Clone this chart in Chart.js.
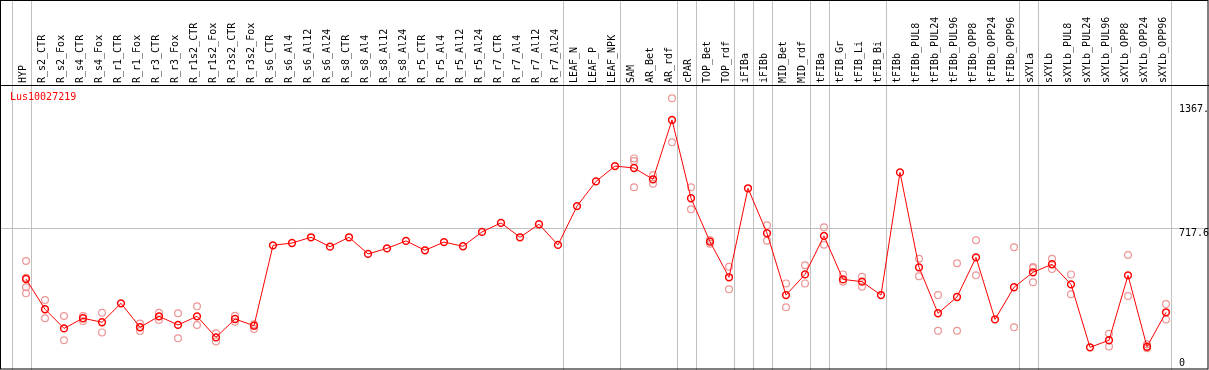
<!DOCTYPE html>
<html>
<head>
<meta charset="utf-8">
<title>Lus10027219</title>
<script src="https://cdn.jsdelivr.net/npm/chart.js@4"></script>
<style>
  html, body { margin: 0; padding: 0; background: #fff; }
  canvas { display: block; }
</style>
</head>
<body>
<canvas id="profileChart" width="1209" height="370"></canvas>
<script>
// sample names (x axis, written vertically at the top)
const categories = [
  'HYP', 'R_s2_CTR', 'R_s2_Fox', 'R_s4_CTR', 'R_s4_Fox', 'R_r1_CTR', 'R_r1_Fox',
  'R_r3_CTR', 'R_r3_Fox', 'R_r1s2_CTR', 'R_r1s2_Fox', 'R_r3s2_CTR', 'R_r3s2_Fox',
  'R_s6_CTR', 'R_s6_Al4', 'R_s6_Al12', 'R_s6_Al24', 'R_s8_CTR', 'R_s8_Al4',
  'R_s8_Al12', 'R_s8_Al24', 'R_r5_CTR', 'R_r5_Al4', 'R_r5_Al12', 'R_r5_Al24',
  'R_r7_CTR', 'R_r7_Al4', 'R_r7_Al12', 'R_r7_Al24', 'LEAF_N', 'LEAF_P', 'LEAF_NPK',
  'SAM', 'AR_Bet', 'AR_rdf', 'cPAR', 'TOP_Bet', 'TOP_rdf', 'iFIBa', 'iFIBb',
  'MID_Bet', 'MID_rdf', 'tFIBa', 'tFIB_Gr', 'tFIB_Li', 'tFIB_Bi', 'tFIBb',
  'tFIBb_PUL8', 'tFIBb_PUL24', 'tFIBb_PUL96', 'tFIBb_OPP8', 'tFIBb_OPP24', 'tFIBb_OPP96',
  'sXYLa', 'sXYLb', 'sXYLb_PUL8', 'sXYLb_PUL24', 'sXYLb_PUL96', 'sXYLb_OPP8',
  'sXYLb_OPP24', 'sXYLb_OPP96'
];

// mean expression (red line)
const meanValues = [
  453, 295, 195, 248, 227, 326, 201, 258, 213, 258, 148, 244, 209,
  629, 641, 671, 622, 671, 584, 613, 652, 603, 646, 624, 699,
  746, 671, 739, 631, 834, 963, 1043,
  1033, 974, 1284, 875, 648, 462, 927, 692,
  369, 477, 678, 451, 439, 369, 1010,
  514, 274, 359, 566, 242, 410,
  488, 530, 425, 96, 133, 472, 99, 279
];

// single replicates (pale circles), null where none is shown
const rep1 = [
  547, 343, 260, 260, 277, null, 220, 277, 274, 310, 169, 261, 216,
  null, null, null, null, null, null, null, null, null, null, null, null,
  null, null, null, null, null, null, null,
  1083, 996, 1397, 932, 657, 517, null, 734,
  430, 525, 723, 477, 465, null, null,
  559, 369, 535, 655, null, 619,
  516, 559, 477, null, 167, 578, 112, 322
];
const rep2 = [
  460, 248, 133, 234, 174, null, 181, 239, 143, 213, 127, 230, 192,
  null, null, null, null, null, null, null, null, null, null, null, null,
  null, null, null, null, null, null, null,
  1069, 951, 1167, 817, 637, 399, null, 653,
  305, 430, 632, 439, 413, null, null,
  467, 183, 183, 472, null, 201,
  510, 505, 373, null, 101, 364, 91, 242
];
const rep3 = [
  410, null, null, null, null, null, null, null, null, null, null, null, null,
  null, null, null, null, null, null, null, null, null, null, null, null,
  null, null, null, null, null, null, null,
  932, null, null, null, null, null, null, null,
  null, null, null, null, null, null, null,
  null, null, null, null, null, null,
  436, null, null, null, null, null, null, null
];
const rep4 = [
  378, null, null, null, null, null, null, null, null, null, null, null, null,
  null, null, null, null, null, null, null, null, null, null, null, null,
  null, null, null, null, null, null, null,
  null, null, null, null, null, null, null, null,
  null, null, null, null, null, null, null,
  null, null, null, null, null, null,
  null, null, null, null, null, null, null, null
];

// right hand value labels
const yTickValues = [0, 717.6, 1367.2];
const yTickLabels = ['0', '717.6', '1367.'];
const gridValue = 717.6;

// a grey separator is drawn just after these sample indexes
const groupBreaks = [-1, 0, 28, 31, 34, 35, 37, 38, 39, 41, 42, 45, 52, 53, 60];

const geneName = 'Lus10027219';
const monoFont = '"DejaVu Sans Mono", "Liberation Mono", monospace';

function axisEnd(chart) {
  return chart.scales.x.getPixelForValue(categories.length - 1 + 0.25);
}

// draws the frame, separators and the grey grid behind the points
const framePlugin = {
  id: 'framePlugin',
  beforeDatasetsDraw(chart) {
    const ctx = chart.ctx;
    const x = chart.scales.x;
    const y = chart.scales.y;
    const w = chart.width;
    const h = chart.height;
    ctx.save();
    ctx.strokeStyle = '#c0c0c0';
    ctx.lineWidth = 1;
    groupBreaks.forEach(i => {
      const px = Math.round(x.getPixelForValue(i + 0.25)) + 0.5;
      ctx.beginPath();
      ctx.moveTo(px, 0);
      ctx.lineTo(px, h);
      ctx.stroke();
    });
    const gy = Math.round(y.getPixelForValue(gridValue)) + 0.5;
    ctx.beginPath();
    ctx.moveTo(0, gy);
    ctx.lineTo(w, gy);
    ctx.stroke();
    ctx.restore();
  },
  afterDraw(chart) {
    const ctx = chart.ctx;
    const area = chart.chartArea;
    const y = chart.scales.y;
    const w = chart.width;
    const h = chart.height;
    ctx.save();
    ctx.strokeStyle = '#000';
    ctx.lineWidth = 1;
    ctx.strokeRect(0.5, 0.5, w - 1.5, h - 1.5);
    ctx.beginPath();
    ctx.moveTo(0, Math.round(area.top) + 0.5);
    ctx.lineTo(w, Math.round(area.top) + 0.5);
    ctx.stroke();

    ctx.font = '10px ' + monoFont;
    ctx.fillStyle = '#000';
    ctx.textAlign = 'left';
    ctx.textBaseline = 'top';
    const labelX = Math.round(axisEnd(chart)) + 8;
    yTickValues.forEach((v, i) => {
      let py = y.getPixelForValue(v);
      if (py > h - 12) py = h - 12; // keep the bottom label inside the frame
      ctx.fillText(yTickLabels[i], labelX, py);
    });

    ctx.fillStyle = '#ff0000';
    ctx.textBaseline = 'middle';
    ctx.fillText(geneName, 10, area.top + 12);
    ctx.restore();
  }
};

const ctx = document.getElementById('profileChart').getContext('2d');
window.profileChart = new Chart(ctx, {
  type: 'line',
  data: {
    labels: categories,
    datasets: [
      {
        label: 'mean',
        data: meanValues,
        borderColor: '#ff0000',
        borderWidth: 1,
        pointRadius: 3.4,
        pointBorderWidth: 1.5,
        pointBorderColor: '#ff0000',
        pointBackgroundColor: 'rgba(0,0,0,0)',
        fill: false,
        tension: 0,
        order: 0
      },
      ...[rep1, rep2, rep3, rep4].map((reps, k) => ({
        label: 'rep' + (k + 1),
        data: reps,
        showLine: false,
        pointRadius: 3.4,
        pointBorderWidth: 1.2,
        pointBorderColor: '#ec9696',
        pointBackgroundColor: 'rgba(0,0,0,0)',
        order: 1
      }))
    ]
  },
  options: {
    responsive: false,
    animation: false,
    devicePixelRatio: 1,
    layout: { autoPadding: false, padding: { left: 26, right: 43, top: 0, bottom: 1 } },
    plugins: {
      legend: { display: false },
      tooltip: { enabled: false }
    },
    scales: {
      x: {
        type: 'category',
        position: 'top',
        offset: false,
        grid: { display: false, drawTicks: false },
        border: { display: false },
        afterFit(scale) { scale.height = 85; },
        ticks: {
          autoSkip: false,
          minRotation: 90,
          maxRotation: 90,
          padding: 2,
          labelOffset: 9,
          color: '#000',
          font: { family: monoFont, size: 10 }
        }
      },
      y: {
        display: false,
        min: -17.2,
        max: 1466.6
      }
    }
  },
  plugins: [framePlugin]
});
</script>
</body>
</html>
